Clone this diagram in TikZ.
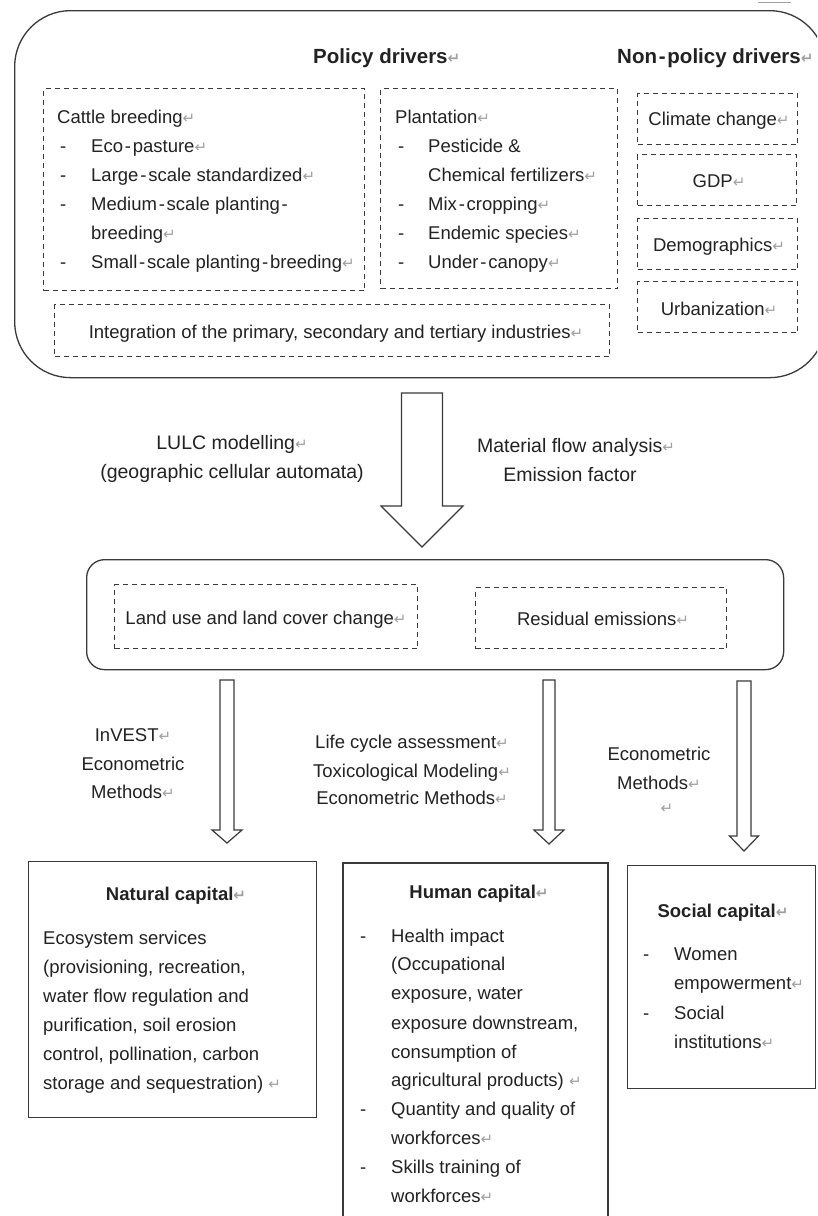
\documentclass[tikz,border=0pt]{standalone}
\usepackage{fontspec}
\setmainfont{Liberation Sans}
\newfontfamily\retfont{DejaVu Sans}
\definecolor{txtc}{HTML}{222222}
\definecolor{linec}{HTML}{3A3A3A}
\definecolor{retgray}{HTML}{A0A0A0}
\newcommand{\retmk}{{\retfont\fontsize{15}{15}\selectfont\textcolor{retgray}{↵}}}
\newcommand{\hy}{\kern1.8pt-\kern1.8pt}
\newcommand{\dline}[5]{\node[tx] (#1-d) at (#2,#4) {-}; \node[tx] (#1) at (#3,#4) {#5};}
\newcommand{\blockarr}[6]{% cx, top, base, tip, shaft half, head half
  \draw[barrow] (#1-#5,#2) -- (#1+#5,#2) -- (#1+#5,#3) -- (#1+#6,#3) -- (#1,#4) -- (#1-#6,#3) -- (#1-#5,#3) -- cycle;}
\begin{document}
\begin{tikzpicture}[x=1pt,y=-1pt,
  tx/.style={inner sep=0pt, anchor=base west, text=txtc, font=\fontsize{18.5}{29}\selectfont},
  ctx/.style={inner sep=0pt, anchor=base, text=txtc, font=\fontsize{18.5}{29}\selectfont},
  lbl/.style={inner sep=0pt, anchor=base, text=txtc, font=\fontsize{19.5}{29}\selectfont},
  hd/.style={inner sep=0pt, anchor=base west, text=txtc, font=\fontsize{20.5}{29}\selectfont\bfseries},
  chd/.style={inner sep=0pt, anchor=base, text=txtc, font=\fontsize{18.5}{29}\selectfont\bfseries},
  dbox/.style={draw=linec, line width=1.2pt, dash pattern=on 5pt off 4pt, inner sep=0pt, anchor=north west},
  sbox/.style={draw=linec, line width=1.3pt, inner sep=0pt, anchor=north west},
  barrow/.style={draw=linec, line width=1.2pt, fill=white, line join=miter}
]
\useasboundingbox (0,0) rectangle (817,1216);
\clip (0,0) rectangle (817,1216);
\fill[white] (0,0) rectangle (817,1216);

% top artifact line
\draw[retgray, line width=1pt] (758,2) -- (791,2);

% ---------------- outer drivers box ----------------
\node[sbox, rounded corners=56, minimum width=811pt, minimum height=367pt] (outer) at (14,10) {};
\node[hd] (poltitle) at (313,63) {Policy drivers\retmk};
\node[hd] (nonpoltitle) at (617,63) {Non\hy policy drivers\retmk};

% cattle breeding
\node[dbox, minimum width=321pt, minimum height=202pt] (cattle) at (43,88) {};
\node[tx] (cb0) at (57,123) {Cattle breeding\retmk};
\dline{cb1}{60}{91}{152}{Eco\hy pasture\retmk}
\dline{cb2}{60}{91}{181}{Large\hy scale standardized\retmk}
\dline{cb3}{60}{91}{210}{Medium\hy scale planting\hy}
\node[tx] (cb3b) at (91,239) {breeding\retmk};
\dline{cb4}{60}{91}{268}{Small\hy scale planting\hy breeding\retmk}

% plantation
\node[dbox, minimum width=237pt, minimum height=200pt] (plant) at (380,88) {};
\node[tx] (pl0) at (395,123) {Plantation\retmk};
\dline{pl1}{398}{428}{152}{Pesticide \&}
\node[tx] (pl1b) at (428,181) {Chemical fertilizers\retmk};
\dline{pl2}{398}{428}{210}{Mix\hy cropping\retmk}
\dline{pl3}{398}{428}{239}{Endemic species\retmk}
\dline{pl4}{398}{428}{268}{Under\hy canopy\retmk}

% integration
\node[dbox, minimum width=555pt, minimum height=52pt] (integ) at (54,304) {};
\node[ctx] (integt) at (336,338) {Integration of the primary, secondary and tertiary industries\retmk};

% non-policy boxes
\node[dbox, minimum width=160pt, minimum height=51pt] (climate) at (637,93) {};
\node[ctx] (climatet) at (719,125) {Climate change\retmk};
\node[dbox, minimum width=159pt, minimum height=51pt] (gdp) at (637,154) {};
\node[ctx] (gdpt) at (719,187) {GDP\retmk};
\node[dbox, minimum width=160pt, minimum height=51pt] (demo) at (637,218) {};
\node[ctx] (demot) at (719,251) {Demographics\retmk};
\node[dbox, minimum width=160pt, minimum height=51pt] (urban) at (637,281) {};
\node[ctx] (urbant) at (719,315) {Urbanization\retmk};

% ---------------- big arrow ----------------
\blockarr{422}{393}{506}{547}{20.5}{41}
\node[lbl] (lulc1) at (232,449) {LULC modelling\retmk};
\node[lbl] (lulc2) at (232,478) {(geographic cellular automata)};
\node[lbl] (mfa1) at (576,452) {Material flow analysis\retmk};
\node[lbl] (mfa2) at (570,481) {Emission factor};

% ---------------- middle box ----------------
\node[sbox, rounded corners=18, minimum width=697pt, minimum height=110pt] (mid) at (86,559) {};
\node[dbox, minimum width=303pt, minimum height=64pt] (lulcbox) at (114,584) {};
\node[ctx] (lulct) at (266,624) {Land use and land cover change\retmk};
\node[dbox, minimum width=251pt, minimum height=61pt] (resbox) at (475,587) {};
\node[ctx] (rest) at (603,625) {Residual emissions\retmk};

% ---------------- small arrows ----------------
\blockarr{227}{680}{830}{843}{7}{15}
\blockarr{549}{680}{830}{844}{6}{15}
\blockarr{744}{681}{836}{851}{7}{14.5}

\node[ctx] (inv1) at (133,741) {InVEST\retmk};
\node[ctx] (inv2) at (133,770) {Econometric};
\node[ctx] (inv3) at (133,798) {Methods\retmk};

\node[ctx] (lca1) at (412,748) {Life cycle assessment\retmk};
\node[ctx] (lca2) at (412,777) {Toxicological Modeling\retmk};
\node[ctx] (lca3) at (412,804) {Econometric Methods\retmk};

\node[ctx] (eco1) at (659,760) {Econometric};
\node[ctx] (eco2) at (659,789) {Methods\retmk};
\node[ctx] (eco3) at (667,813) {\retmk};

% ---------------- natural capital ----------------
\node[sbox, minimum width=288pt, minimum height=256pt] (natural) at (28,861) {};
\node[chd] (natt) at (176,900) {Natural capital\retmk};
\node[tx] (nat1) at (43,944) {Ecosystem services};
\node[tx] (nat2) at (43,973) {(provisioning, recreation,};
\node[tx] (nat3) at (43,1002) {water flow regulation and};
\node[tx] (nat4) at (43,1031) {purification, soil erosion};
\node[tx] (nat5) at (43,1060) {control, pollination, carbon};
\node[tx] (nat6) at (43,1089) {storage and sequestration) \retmk};

% ---------------- human capital ----------------
\draw[draw=linec, line width=1.3pt] (343,1230) -- (343,863) -- (608,863) -- (608,1230);
\coordinate (human) at (475,863);
\node[chd] (humt) at (479,898) {Human capital\retmk};
\dline{hu1}{360}{391}{942}{Health impact}
\node[tx] (hu1b) at (391,970) {(Occupational};
\node[tx] (hu1c) at (391,999) {exposure, water};
\node[tx] (hu1d) at (391,1029) {exposure downstream,};
\node[tx] (hu1e) at (391,1058) {consumption of};
\node[tx] (hu1f) at (391,1086) {agricultural products) \retmk};
\dline{hu2}{360}{391}{1115}{Quantity and quality of}
\node[tx] (hu2b) at (391,1144) {workforces\retmk};
\dline{hu3}{360}{391}{1173}{Skills training of}
\node[tx] (hu3b) at (391,1202) {workforces\retmk};

% ---------------- social capital ----------------
\node[sbox, minimum width=188pt, minimum height=223pt] (social) at (627,865) {};
\node[chd] (soct) at (723,917) {Social capital\retmk};
\dline{so1}{643}{674}{960}{Women}
\node[tx] (so1b) at (674,989) {empowerment\retmk};
\dline{so2}{643}{674}{1019}{Social}
\node[tx] (so2b) at (674,1048) {institutions\retmk};
\end{tikzpicture}
\end{document}
